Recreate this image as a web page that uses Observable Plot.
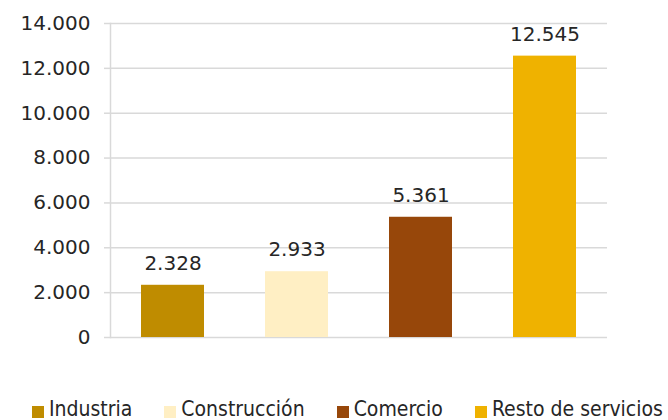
<!DOCTYPE html>
<html><head><meta charset="utf-8">
<script src="https://cdn.jsdelivr.net/npm/d3@7"></script>
<script src="https://cdn.jsdelivr.net/npm/@observablehq/plot@0.6"></script>
<style>
body{margin:0;background:#fff;width:668px;height:420px;overflow:hidden;font-family:"DejaVu Sans",sans-serif;position:relative;}
#legend{position:absolute;left:32px;top:398px;height:22px;display:flex;gap:32px;font-family:"DejaVu Sans Condensed","DejaVu Sans",sans-serif;font-size:21px;line-height:22px;color:#262626;white-space:nowrap;}
#legend .item{display:flex;align-items:flex-end;gap:5px;height:22px;}
#legend .sw{width:12px;height:12px;display:inline-block;margin-bottom:2px;flex:none;}
</style></head><body><div id="chart"></div><div id="legend"></div>
<script>
const categories = ["Industria", "Construcción", "Comercio", "Resto de servicios"];
const values = [2328, 2933, 5361, 12545];
const colors = ["#BF8C00", "#FFEFC4", "#97470A", "#EFB200"];
const yTicks = [0, 2000, 4000, 6000, 8000, 10000, 12000, 14000];

const fmt = d3.formatLocale({decimal: ",", thousands: ".", grouping: [3], currency: ["", "€"]}).format(",d");
const data = categories.map((c, i) => ({category: c, value: values[i]}));

const chart = Plot.plot({
  width: 668, height: 360,
  marginLeft: 110, marginRight: 61, marginTop: 23, marginBottom: 23,
  style: {fontFamily: "DejaVu Sans", fontSize: "20px", color: "#262626", background: "white"},
  x: {domain: categories, axis: null, paddingInner: 0.49, paddingOuter: 0.245},
  y: {domain: [0, 14000]},
  color: {domain: categories, range: colors},
  marks: [
    Plot.gridY(yTicks, {stroke: "#d9d9d9", strokeOpacity: 1, strokeWidth: 1.5}),
    Plot.frame({anchor: "left", stroke: "#d9d9d9", strokeWidth: 1.5}),
    Plot.axisY({ticks: yTicks, tickFormat: fmt, tickSize: 6, tickPadding: 14, stroke: "#d9d9d9", strokeOpacity: 1, strokeWidth: 1.5, fill: "#262626", label: null, fontSize: 20}),
    Plot.barY(data, {x: "category", y: "value", fill: "category"}),
    Plot.text(data, {x: "category", y: "value", text: d => fmt(d.value), dy: -22, fontSize: 20, fill: "#262626"})
  ]
});
document.getElementById("chart").appendChild(chart);

const legend = document.getElementById("legend");
categories.forEach((c, i) => {
  const item = document.createElement("div");
  item.className = "item";
  const sw = document.createElement("span");
  sw.className = "sw";
  sw.style.background = colors[i];
  const t = document.createElement("span");
  t.textContent = c;
  item.appendChild(sw);
  item.appendChild(t);
  legend.appendChild(item);
});
</script>
</body></html>
